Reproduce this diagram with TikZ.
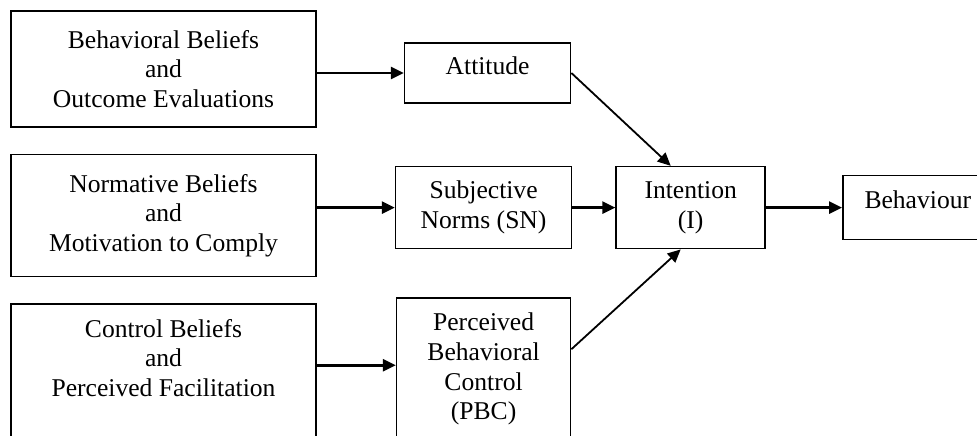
\documentclass[tikz,border=0pt]{standalone}
\usepackage{fontspec}
\setmainfont{Liberation Serif}
\usetikzlibrary{positioning,arrows.meta}

\begin{document}
\begin{tikzpicture}[auto, node distance=1cm,
        font=\fontsize{12.8pt}{14.8pt}\selectfont,
        block/.style={draw, rectangle, line width=0.8pt, align=center, inner sep=4pt},
        belief/.style={block, minimum width=152.5pt, minimum height=58pt},
        link/.style={->, line width=1.3pt},
        slant/.style={->, line width=0.9pt},
        >={Triangle[length=6.5pt,width=6pt]}
    ]
        % frame of the page, bb is centred on the origin
        \useasboundingbox (-81.75pt,34.5pt) rectangle ++(488.5pt,-217.5pt);

        \node [belief] (bb) {Behavioral Beliefs\\and\\Outcome Evaluations};
        \node [belief, below=13pt of bb, minimum height=61pt] (nb) {Normative Beliefs\\and\\Motivation to Comply};
        \node [belief, below=13pt of nb, inner ysep=7.5pt, text depth=40pt] (cb) {Control Beliefs\\and\\Perceived Facilitation};

        \node [block, right=39pt of nb, yshift=4pt, minimum width=88pt, minimum height=41pt] (sn) {Subjective\\Norms (SN)};
        \node [block, above=31pt of sn, xshift=2pt, minimum width=83pt, minimum height=30pt, text depth=7pt] (att) {Attitude};
        \node [block, below=24pt of sn, minimum width=87pt, inner ysep=7.5pt] (pbc) {Perceived\\Behavioral\\Control\\(PBC)};
        \node [block, right=21.5pt of sn, minimum width=74.5pt, minimum height=41pt] (int) {Intention\\(I)};
        \node [block, right=38pt of int, minimum width=75pt, minimum height=32pt, text depth=7.5pt] (beh) {Behaviour};

        \coordinate [yshift=2pt] (pbcin) at (pbc.west);

        \draw [link] (bb.east |- att.west) -- (att.west);
        \draw [link] (nb.east |- sn.west) -- (sn.west);
        \draw [link] (cb.east |- pbcin) -- (pbcin);
        \draw [link] (sn) -- (int);
        \draw [link] (int.east) -- (beh.west |- int.east);

        \draw [slant] (att.east) -- ([xshift=-10pt]int.north);
        \draw [slant] ([yshift=10pt]pbc.east) -- ([xshift=-5pt]int.south);
    \end{tikzpicture}
\end{document}
